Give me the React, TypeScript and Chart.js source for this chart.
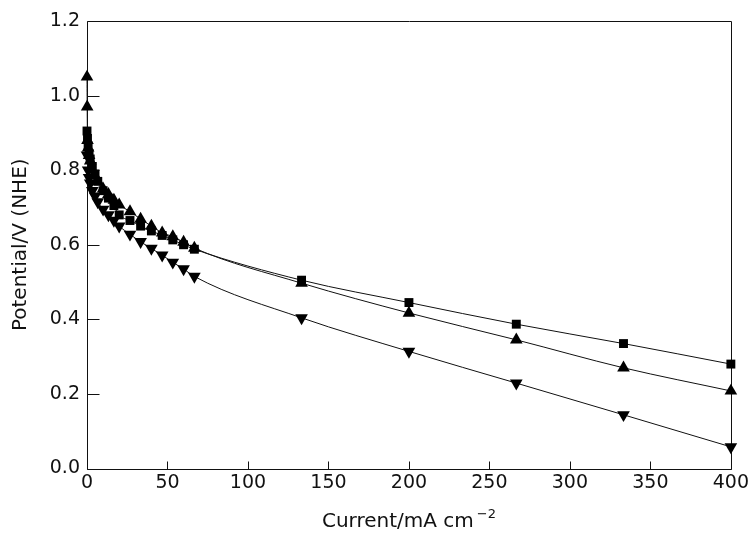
import React, { useEffect, useRef } from 'react';
import { Chart, registerables } from 'chart.js';

Chart.register(...registerables);

// ---- data (current density in mA cm^-2, potential in V vs NHE) ----
const currentSquare = [0, 0.3, 0.7, 1.3, 2, 3.3, 5, 6.7, 10, 13.3, 16.7, 20, 26.7, 33.3, 40, 46.7, 53.3, 60, 66.7, 133.3, 200, 266.7, 333.3, 400];
const potentialSquare = [0.905, 0.885, 0.865, 0.845, 0.83, 0.81, 0.79, 0.77, 0.745, 0.725, 0.705, 0.68, 0.665, 0.65, 0.637, 0.625, 0.613, 0.6, 0.588, 0.505, 0.445, 0.387, 0.335, 0.28];

const currentUp = [0, 0.1, 0.3, 0.7, 1.3, 2, 3.3, 5, 6.7, 10, 13.3, 16.7, 20, 26.7, 33.3, 40, 46.7, 53.3, 60, 66.7, 133.3, 200, 266.7, 333.3, 400];
const potentialUp = [1.05, 0.97, 0.88, 0.86, 0.84, 0.825, 0.8, 0.785, 0.77, 0.75, 0.735, 0.72, 0.707, 0.689, 0.669, 0.65, 0.632, 0.622, 0.607, 0.591, 0.497, 0.417, 0.345, 0.27, 0.208];

const currentDown = [0, 0.7, 1.3, 2, 3.3, 5, 6.7, 10, 13.3, 16.7, 20, 26.7, 33.3, 40, 46.7, 53.3, 60, 66.7, 133.3, 200, 266.7, 333.3, 400];
const potentialDown = [0.84, 0.8, 0.78, 0.765, 0.745, 0.73, 0.715, 0.695, 0.68, 0.665, 0.65, 0.628, 0.608, 0.59, 0.572, 0.553, 0.535, 0.515, 0.404, 0.314, 0.229, 0.144, 0.058];

const xTicks = [0, 50, 100, 150, 200, 250, 300, 350, 400];
const yTicks = [0, 0.2, 0.4, 0.6, 0.8, 1.0, 1.2];

const xTitle = 'Current/mA cm';
const xTitleSup = '\u22122';
const yTitle = 'Potential/V (NHE)';

const FONT = '"DejaVu Sans", Verdana, sans-serif';

const toPoints = (xs: number[], ys: number[]) => xs.map((x, i) => ({ x, y: ys[i] }));

export default function App() {
  const ref = useRef<HTMLCanvasElement>(null);

  useEffect(() => {
    if (!ref.current) return;

    const framePlugin = {
      id: 'frameTicks',
      beforeDatasetsDraw(chart: any) {
        const { ctx, chartArea, scales } = chart;
        const { left, right, top, bottom } = chartArea;
        const L = Math.round(left) + 0.5;
        const R = Math.round(right) + 0.5;
        const T = Math.round(top) + 0.5;
        const B = Math.round(bottom) + 0.5;
        ctx.save();
        ctx.strokeStyle = '#111';
        ctx.lineWidth = 1;
        ctx.beginPath();
        ctx.moveTo(L, T);
        ctx.lineTo(R, T);
        ctx.lineTo(R, B);
        ctx.lineTo(L, B);
        ctx.closePath();
        ctx.stroke();
        ctx.beginPath();
        xTicks.forEach((v) => {
          const px = Math.round(scales.x.getPixelForValue(v)) + 0.5;
          ctx.moveTo(px, B);
          ctx.lineTo(px, B - 8);
        });
        yTicks.forEach((v) => {
          const py = Math.round(scales.y.getPixelForValue(v)) + 0.5;
          ctx.moveTo(L, py);
          ctx.lineTo(L + 12, py);
        });
        ctx.stroke();
        ctx.restore();
      },
      afterDraw(chart: any) {
        const { ctx, chartArea } = chart;
        ctx.save();
        ctx.fillStyle = '#111';
        // y title
        ctx.font = `20px ${FONT}`;
        ctx.textAlign = 'center';
        ctx.textBaseline = 'middle';
        ctx.translate(21, (chartArea.top + chartArea.bottom) / 2);
        ctx.rotate(-Math.PI / 2);
        ctx.fillText(yTitle, 0, 0);
        ctx.restore();

        ctx.save();
        ctx.fillStyle = '#111';
        ctx.textBaseline = 'alphabetic';
        ctx.textAlign = 'left';
        ctx.font = `20px ${FONT}`;
        const w1 = ctx.measureText(xTitle).width;
        ctx.font = `13px ${FONT}`;
        const w2 = ctx.measureText(xTitleSup).width;
        const cx = (chartArea.left + chartArea.right) / 2;
        const x0 = cx - (w1 + 3 + w2) / 2;
        const baseY = 527;
        ctx.font = `20px ${FONT}`;
        ctx.fillText(xTitle, x0, baseY);
        ctx.font = `13px ${FONT}`;
        ctx.fillText(xTitleSup, x0 + w1 + 3, baseY - 9);
        ctx.restore();
      },
    };

    const common = {
      borderColor: '#111',
      backgroundColor: '#000',
      pointBackgroundColor: '#000',
      pointBorderColor: '#000',
      borderWidth: 1,
      pointBorderWidth: 0,
      cubicInterpolationMode: 'monotone' as const,
      clip: false as const,
      showLine: true,
    };

    const chart = new Chart(ref.current, {
      type: 'scatter',
      data: {
        datasets: [
          {
            ...common,
            label: 'square',
            data: toPoints(currentSquare, potentialSquare),
            pointStyle: 'rect',
            pointRadius: 6.3,
          },
          {
            ...common,
            label: 'up',
            data: toPoints(currentUp, potentialUp),
            pointStyle: 'triangle',
            pointRadius: 7.3,
          },
          {
            ...common,
            label: 'down',
            data: toPoints(currentDown, potentialDown),
            pointStyle: 'triangle',
            pointRotation: 180,
            pointRadius: 7.3,
          },
        ],
      },
      options: {
        animation: false,
        responsive: false,
        maintainAspectRatio: false,
        events: [],
        layout: { padding: { left: 0, top: 21, right: 20, bottom: 0 } },
        plugins: {
          legend: { display: false },
          tooltip: { enabled: false },
          title: { display: false },
        },
        scales: {
          x: {
            type: 'linear',
            min: 0,
            max: 400,
            afterFit: (s: any) => {
              s.height = 65.5;
            },
            afterBuildTicks: (s: any) => {
              s.ticks = xTicks.map((v) => ({ value: v }));
            },
            ticks: {
              color: '#111',
              font: { family: FONT, size: 19 },
              padding: 3,
              maxRotation: 0,
              autoSkip: false,
            },
            grid: { display: false, drawTicks: false },
            border: { display: false },
          },
          y: {
            type: 'linear',
            min: 0,
            max: 1.2,
            afterFit: (s: any) => {
              s.width = 87;
            },
            afterBuildTicks: (s: any) => {
              s.ticks = yTicks.map((v) => ({ value: v }));
            },
            ticks: {
              color: '#111',
              font: { family: FONT, size: 19 },
              padding: 7,
              autoSkip: false,
              callback: (v: any) => Number(v).toFixed(1),
            },
            grid: { display: false, drawTicks: false },
            border: { display: false },
          },
        },
      },
      plugins: [framePlugin],
    });

    return () => chart.destroy();
  }, []);

  return (
    <div style={{ position: 'absolute', left: 0, top: 0, width: 752, height: 534, background: '#fff' }}>
      <canvas ref={ref} width={752} height={534} style={{ display: 'block' }} />
    </div>
  );
}
